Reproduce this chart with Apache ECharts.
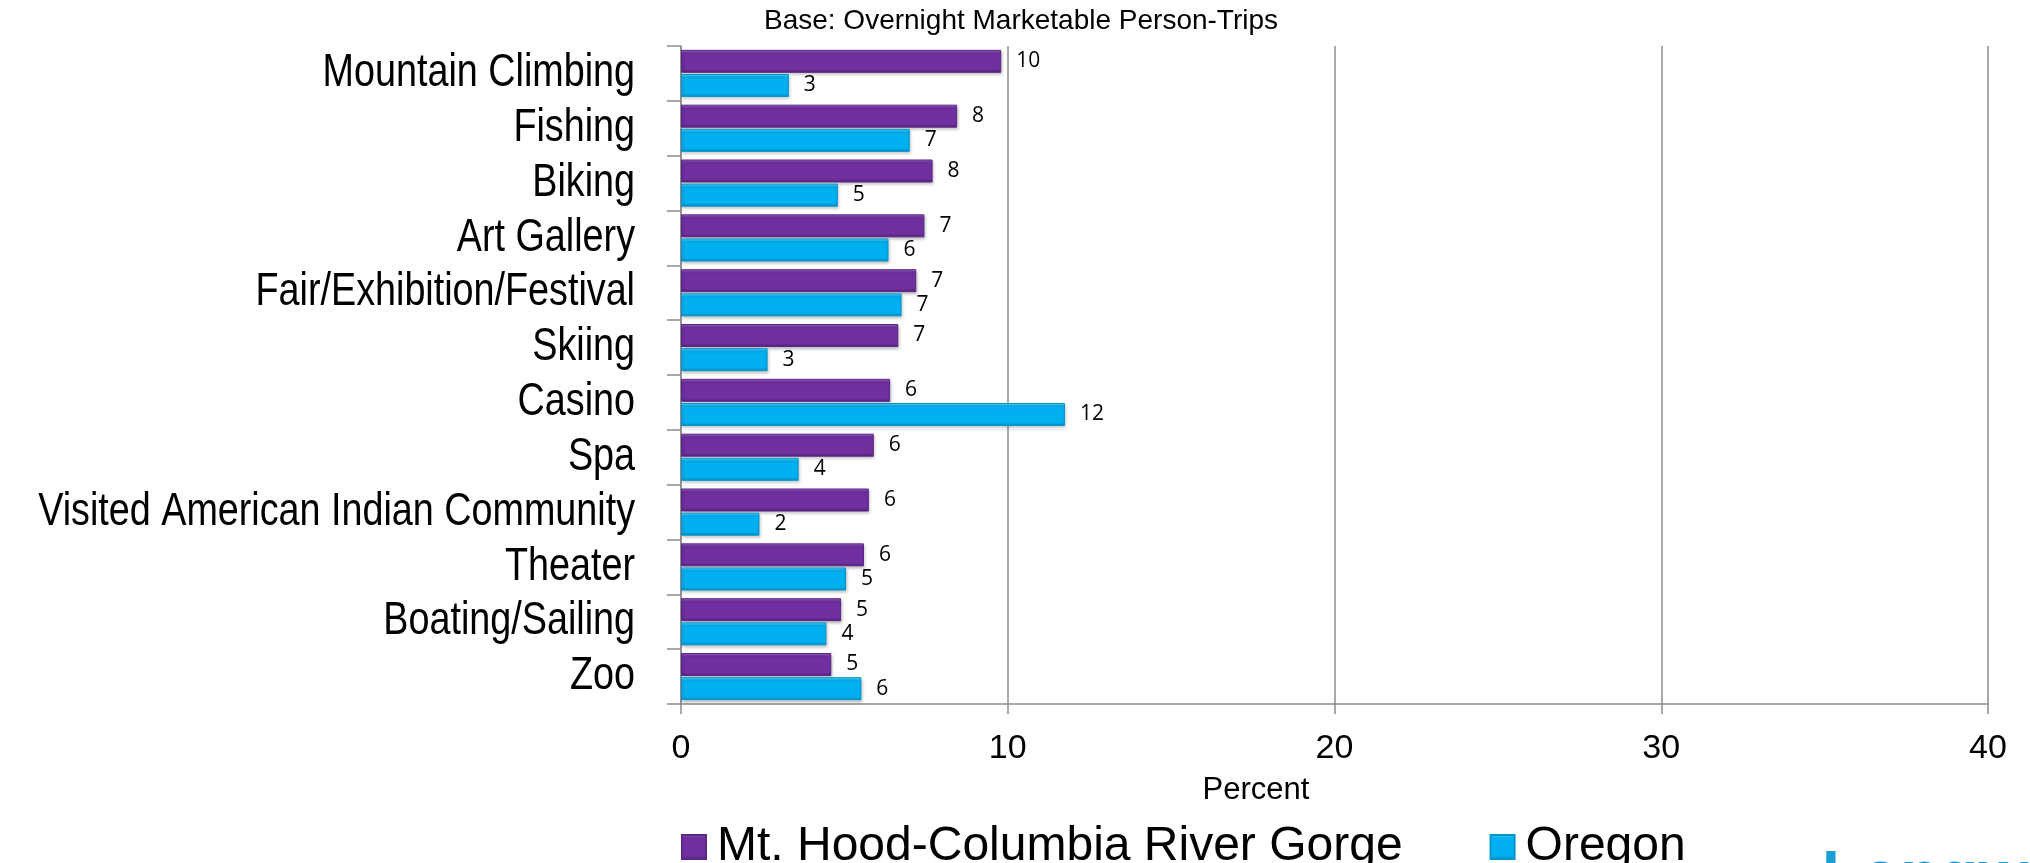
<!DOCTYPE html>
<html>
<head>
<meta charset="utf-8">
<script src="https://cdn.jsdelivr.net/npm/echarts@6/dist/echarts.min.js"></script>
<style>
  html, body { margin: 0; padding: 0; background: #fff; }
  #chart { width: 2030px; height: 863px; }
</style>
</head>
<body>
<div id="chart"></div>
<script>
const categories = [
  "Mountain Climbing",
  "Fishing",
  "Biking",
  "Art Gallery",
  "Fair/Exhibition/Festival",
  "Skiing",
  "Casino",
  "Spa",
  "Visited American Indian Community",
  "Theater",
  "Boating/Sailing",
  "Zoo"
];
const hoodValues = [9.8, 8.45, 7.7, 7.45, 7.2, 6.65, 6.4, 5.9, 5.75, 5.6, 4.9, 4.6];
const oregonValues = [3.3, 7.0, 4.8, 6.35, 6.75, 2.65, 11.75, 3.6, 2.4, 5.05, 4.45, 5.52];
const xTicks = [0, 10, 20, 30, 40];

const seriesNames = ["Mt. Hood-Columbia River Gorge", "Oregon"];

// bevel look: light top edge, dark bottom edge
function bevel(light, base, dark) {
  return new echarts.graphic.LinearGradient(0, 0, 0, 1, [
    { offset: 0, color: light },
    { offset: 0.14, color: base },
    { offset: 0.84, color: base },
    { offset: 1, color: dark }
  ]);
}

const barLabel = {
  show: true,
  position: "right",
  distance: 15,
  color: "#000",
  fontFamily: "Open Sans",
  fontSize: 21,
  formatter: p => Math.round(p.value)
};

const fixedText = [
  {
    type: "text",
    x: 1021,
    y: 21,
    style: {
      text: "Base: Overnight Marketable Person-Trips",
      align: "center",
      verticalAlign: "middle",
      fontFamily: "Liberation Sans",
      fontSize: 28,
      fill: "#000"
    }
  },
  {
    type: "text",
    x: 1256,
    y: 790,
    style: {
      text: "Percent",
      align: "center",
      verticalAlign: "middle",
      fontFamily: "Liberation Sans",
      fontSize: 31,
      fill: "#000"
    }
  },
  {
    type: "text",
    x: 1822,
    y: 846,
    style: {
      text: "Longwoods",
      align: "left",
      verticalAlign: "top",
      fontFamily: "Liberation Sans",
      fontWeight: "bold",
      fontSize: 64,
      fill: "#1a9fd9"
    }
  }
];

const chart = echarts.init(document.getElementById("chart"));
chart.setOption({
  animation: false,
  backgroundColor: "#fff",
  grid: { left: 681, right: 42, top: 46, bottom: 159 },
  legend: {
    left: 676,
    top: 818,
    itemWidth: 24,
    itemHeight: 24,
    itemGap: 87,
    icon: "rect",
    textStyle: {
      fontFamily: "Liberation Sans",
      fontSize: 48,
      color: "#000",
      padding: [0, 0, 0, 6]
    },
    data: seriesNames
  },
  xAxis: {
    type: "value",
    min: xTicks[0],
    max: xTicks[xTicks.length - 1],
    interval: 10,
    axisLine: { show: true, lineStyle: { color: "#8c8c8c", width: 1.5 } },
    axisTick: { show: true, length: 10, lineStyle: { color: "#8c8c8c", width: 1.5 } },
    splitLine: { show: true, lineStyle: { color: "#8c8c8c", width: 1.5 } },
    axisLabel: {
      margin: 28,
      color: "#000",
      fontFamily: "Liberation Sans",
      fontSize: 34
    }
  },
  yAxis: {
    type: "category",
    inverse: true,
    data: categories,
    axisLine: { show: true, lineStyle: { color: "#8c8c8c", width: 1.5 } },
    axisTick: { show: true, length: 14, lineStyle: { color: "#8c8c8c", width: 1.5 } },
    axisLabel: { show: false }
  },
  graphic: fixedText,
  series: [
    {
      name: seriesNames[0],
      type: "bar",
      data: hoodValues,
      barWidth: 23,
      barGap: "5%",
      label: barLabel,
      itemStyle: {
        color: bevel("#a06ad0", "#7030a0", "#4e1f74"),
        borderColor: "#5c2785",
        borderWidth: 1,
        shadowBlur: 3,
        shadowOffsetX: 1,
        shadowOffsetY: 2,
        shadowColor: "rgba(0,0,0,0.25)"
      }
    },
    {
      name: seriesNames[1],
      type: "bar",
      data: oregonValues,
      barWidth: 23,
      barGap: "5%",
      label: barLabel,
      itemStyle: {
        color: bevel("#6fd8ff", "#00b0f0", "#0086bb"),
        borderColor: "#0096cc",
        borderWidth: 1,
        shadowBlur: 3,
        shadowOffsetX: 1,
        shadowOffsetY: 2,
        shadowColor: "rgba(0,0,0,0.25)"
      }
    }
  ]
});

// no narrow sans installed: category names drawn condensed, placed by the y axis scale
const axisX = chart.convertToPixel({ xAxisIndex: 0 }, 0);
const catLabels = categories.map(name => ({
  type: "text",
  x: axisX - 46,
  y: chart.convertToPixel({ yAxisIndex: 0 }, name),
  scaleX: 0.82,
  style: {
    text: name,
    align: "right",
    verticalAlign: "middle",
    fontFamily: "Liberation Sans",
    fontSize: 46,
    fill: "#000"
  }
}));
chart.setOption({ graphic: fixedText.concat(catLabels) });
</script>
</body>
</html>
